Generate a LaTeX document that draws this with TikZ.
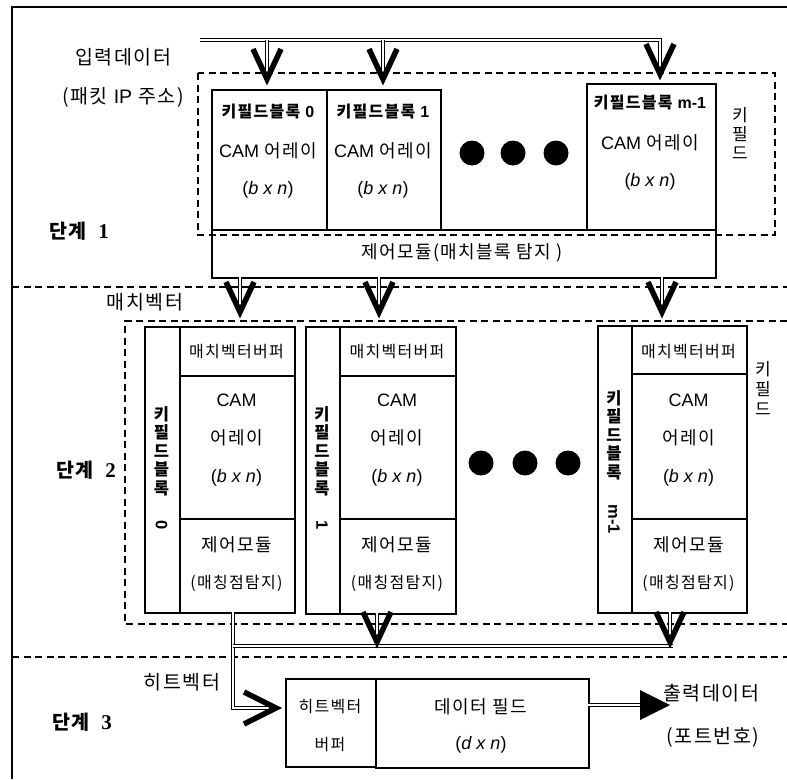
\documentclass[tikz,border=0pt]{standalone}
\usepackage{fontspec}
\usepackage{graphicx}
\setmainfont{Liberation Sans}
\newfontfamily\kr[LetterSpace=8]{Noto Sans CJK KR}
\newfontfamily\serb{Liberation Serif}
\begin{document}
\begin{tikzpicture}[x=1pt,y=-1pt,
  box/.style={draw,line width=1.9pt,inner sep=0pt,anchor=north west},
  dsh/.style={line width=1.5pt,dash pattern=on 7pt off 4.5pt},
  dbl/.style={double,double distance=1.8pt,line width=1.4pt},
  vee/.style={line width=5.5pt,line join=miter,miter limit=4},
  kt/.style={inner sep=0pt,font=\kr\fontsize{#1}{#1}\selectfont},
  kb/.style={inner sep=0pt,font=\kr\bfseries\fontsize{#1}{#1}\selectfont},
  lt/.style={inner sep=0pt,font=\rmfamily\fontsize{#1}{#1}\selectfont},
  vlab/.style={inner sep=0pt,align=center,font=\kr\bfseries\fontsize{16.5}{18.5}\selectfont},
  rlab/.style={inner sep=0pt,align=center,font=\kr\fontsize{17}{#1}\selectfont},
  dot/.style={circle,fill,inner sep=0pt,minimum size=25pt},
  vdown/.pic={\draw[vee] (-14,-30) -- (0,0) -- (14,-30);},
  vright/.pic={\draw[vee] (-32,-16) -- (0,0) -- (-32,16);}
]
\useasboundingbox (0,0) rectangle (787,779);
% frame
\draw[line width=1.8pt] (12,779) -- (12,7) -- (787,7);
% stage dividers
\draw[dsh] (12,287) -- (787,287);
\draw[dsh] (12,657) -- (787,657);
% ---------------- stage 1
\draw[dsh] (198,73) rectangle (775,235);
\node[box,minimum width=115pt,minimum height=140pt] (b10) at (211,89) {};
\node[box,minimum width=114pt,minimum height=140pt] (b11) at (326,89) {};
\node[box,minimum width=129pt,minimum height=146pt] (b1m) at (586,83) {};
\node[box,minimum width=504pt,minimum height=48pt] (c1) at (211,229) {};
\node[kb=16] (b10t) at (268,112) {키필드블록 {\rmfamily\bfseries 0}};
\node[kb=16] (b11t) at (383,112) {키필드블록 {\rmfamily\bfseries 1}};
\node[kb=16] (b1mt) at (650,103) {키필드블록 {\rmfamily\bfseries m-1}};
\node[lt=18] (b10a) at (268,151) {CAM {\kr 어레이}};
\node[lt=18] (b11a) at (383,151) {CAM {\kr 어레이}};
\node[lt=18] (b1ma) at (650,143) {CAM {\kr 어레이}};
\node[lt=18] (b10s) at (268,190) {(\textit{b x n})};
\node[lt=18] (b11s) at (383,190) {(\textit{b x n})};
\node[lt=18] (b1ms) at (650,182) {(\textit{b x n})};
\node[kt=18] (c1t) at (462,253) {제어모듈(매치블록 탐지 )};
\node[dot] (d11) at (472,153) {};
\node[dot] (d12) at (513,153) {};
\node[dot] (d13) at (556,153) {};
\node[rlab=19] (kf1) at (740,133) {키\\필\\드};
\node[kt=19.5] (in1) at (123,57) {입력데이터};
\node[kt=19.5] (in2) at (123,97) {(패킷 {\rmfamily IP} 주소)};
\node[kb=19.5] (st1) at (79,231) {단계\hspace{12pt}{\serb\bfseries\fontsize{21}{21}\selectfont 1}};
% input bus
\coordinate (ib0) at (200,40);
\coordinate (ib1) at (267,40);
\coordinate (ib2) at (383,40);
\coordinate (ibm) at (660,40);
\coordinate (it0) at (267,79);
\coordinate (it1) at (383,79);
\coordinate (itm) at (660,74);
\draw[dbl] (ib0) -- (ibm) -- (itm);
\draw[dbl] (ib1) -- (it0);
\draw[dbl] (ib2) -- (it1);
\pic at (it0) {vdown};
\pic at (it1) {vdown};
\pic at (itm) {vdown};
% ---------------- stage 2
\draw[dsh] (787,321) -- (125,321) -- (125,624) -- (787,624);
\node[kt=19.5] (mv) at (145,302) {매치벡터};
\coordinate (m0s) at (240,277); \coordinate (m0t) at (240,312);
\coordinate (m1s) at (379,277); \coordinate (m1t) at (379,312);
\coordinate (mms) at (662,277); \coordinate (mmt) at (662,312);
\draw[dbl] (m0s) -- (m0t); \pic at (m0t) {vdown};
\draw[dbl] (m1s) -- (m1t); \pic at (m1t) {vdown};
\draw[dbl] (mms) -- (mmt); \pic at (mmt) {vdown};
% block 0
\node[box,minimum width=35pt,minimum height=286pt] (b20c) at (144,326) {};
\node[box,minimum width=115pt,minimum height=49pt] (b20b) at (179,326) {};
\node[box,minimum width=115pt,minimum height=143pt] (b20a) at (179,375) {};
\node[box,minimum width=115pt,minimum height=94pt] (b20m) at (179,518) {};
% block 1
\node[box,minimum width=34pt,minimum height=287pt] (b21c) at (305,326) {};
\node[box,minimum width=116pt,minimum height=49pt] (b21b) at (339,326) {};
\node[box,minimum width=116pt,minimum height=143pt] (b21a) at (339,375) {};
\node[box,minimum width=116pt,minimum height=95pt] (b21m) at (339,518) {};
% block m-1
\node[box,minimum width=34pt,minimum height=287pt] (b2mc) at (597,325) {};
\node[box,minimum width=115pt,minimum height=48pt] (b2mb) at (631,325) {};
\node[box,minimum width=115pt,minimum height=145pt] (b2ma) at (631,373) {};
\node[box,minimum width=115pt,minimum height=94pt] (b2mm) at (631,518) {};
% texts
\foreach \n/\x in {0/236.5,1/397,m/688.5}{
  \node[kt=16] (b2\n tb) at (\x,352) {매치벡터버퍼};
  \node[lt=18] (b2\n tc) at (\x,400) {CAM};
  \node[kt=18] (b2\n ta) at (\x,438) {어레이};
  \node[lt=18] (b2\n ts) at (\x,478) {(\textit{b x n})};
  \node[kt=18] (b2\n tm) at (\x,545) {제어모듈};
  \node[kt=16] (b2\n tp) at (\x,583) {(매칭점탐지)};
}
\node[vlab] (v0) at (161.5,468) {키\\필\\드\\블\\록\\[8pt]\rotatebox{-90}{\rmfamily\bfseries 0}};
\node[vlab] (v1) at (322,468) {키\\필\\드\\블\\록\\[8pt]\rotatebox{-90}{\rmfamily\bfseries 1}};
\node[vlab] (vm) at (614,462) {키\\필\\드\\블\\록\\[8pt]\rotatebox{-90}{\rmfamily\bfseries m-1}};
\node[dot] (d21) at (481,463) {};
\node[dot] (d22) at (525,463) {};
\node[dot] (d23) at (568,463) {};
\node[rlab=20] (kf2) at (763,388) {키\\필\\드};
\node[kb=19.5] (st2) at (86,470) {단계\hspace{12pt}{\serb\bfseries\fontsize{21}{21}\selectfont 2}};
% hit vector bus
\coordinate (h0) at (233,612);
\coordinate (hc) at (233,708);
\coordinate (ht) at (276,708);
\coordinate (hb0) at (233,646);
\coordinate (hbm) at (673,646);
\coordinate (h1s) at (377,613); \coordinate (h1t) at (377,642);
\coordinate (hms) at (670,612); \coordinate (hmt) at (670,642);
\draw[dbl] (h0) -- (hc) -- (ht);
\draw[dbl] (hb0) -- (hbm);
\draw[dbl] (h1s) -- (h1t); \pic at (h1t) {vdown};
\draw[dbl] (hms) -- (hmt); \pic at (hmt) {vdown};
\pic at (ht) {vright};
% ---------------- stage 3
\node[kt=19.5] (hv) at (182,682) {히트벡터};
\node[kb=19.5] (st3) at (82,722) {단계\hspace{12pt}{\serb\bfseries\fontsize{21}{21}\selectfont 3}};
\node[box,minimum width=90pt,minimum height=88pt] (hb) at (285,678) {};
\node[box,minimum width=213pt,minimum height=89pt] (df) at (375,678) {};
\node[kt=16] (hbt1) at (330,707) {히트벡터};
\node[kt=16] (hbt2) at (330,745) {버퍼};
\node[kt=18] (dft1) at (481,707) {데이터 필드};
\node[lt=18] (dft2) at (481,745) {(\textit{d x n})};
\coordinate (os) at (588,705);
\coordinate (oe) at (642,705);
\draw[dbl] (os) -- (oe);
\fill (640,690) -- (670,705) -- (640,720) -- cycle;
\node[kt=19.5] (out1) at (711,693) {출력데이터};
\node[kt=19.5] (out2) at (713,737) {(포트번호)};
\end{tikzpicture}
\end{document}
